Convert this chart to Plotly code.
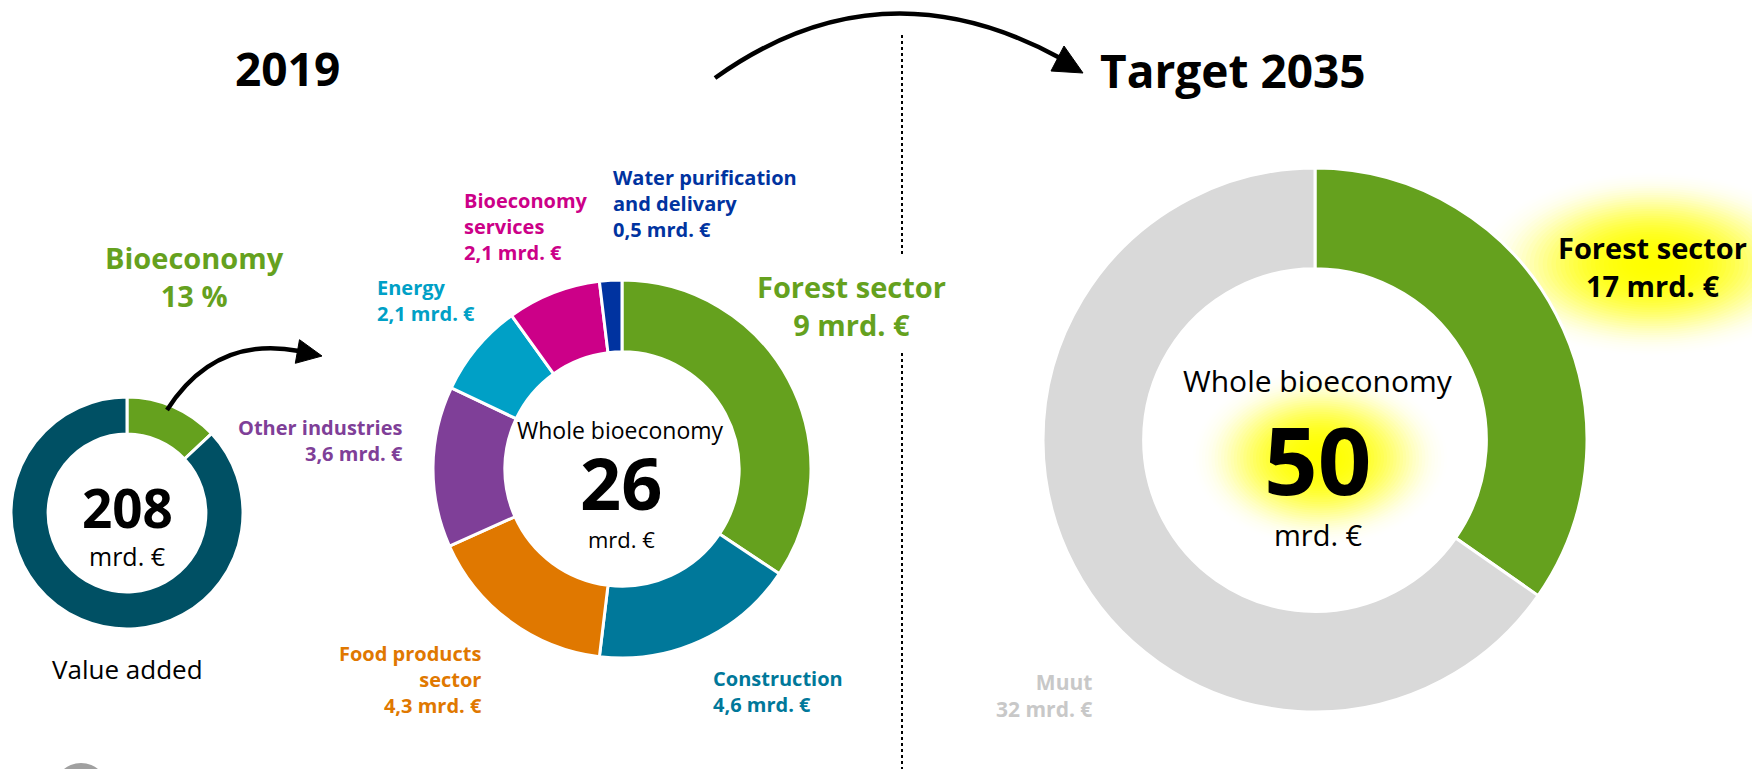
import plotly.graph_objects as go

W, H = 1752, 769

# ---------------- data ----------------
va_labels = ["Bioeconomy", "Other economy"]
va_share = [13, 87]            # % of value added
va_total = 208                 # mrd. €

sectors_2019 = ["Forest sector", "Construction", "Food products sector", "Other industries",
                "Energy", "Bioeconomy services", "Water purification and delivary"]
sector_label_text = ["Forest sector", "Construction", "Food products<br>sector", "Other industries",
                     "Energy", "Bioeconomy<br>services", "Water purification<br>and delivary"]
values_2019 = [9, 4.6, 4.3, 3.6, 2.1, 2.1, 0.5]
total_2019 = 26

target_labels = ["Forest sector", "Muut"]
target_values = [17, 32]
total_2035 = 50

# ---------------- style ----------------
GREEN = "#65A11E"
DARK = "#005064"
sector_colors = ["#65A11E", "#00789A", "#E07800", "#7F3F98", "#00A0C6", "#CC0088", "#0033A0"]
target_colors = ["#65A11E", "#D9D9D9"]
FONT = "Open Sans"


def fmt(v):
    return str(int(v)) if float(v).is_integer() else str(v).replace(".", ",")


def px(x):
    return x / W


def py(y):
    return 1 - y / H


def dom(cx, cy, r):
    return dict(x=[px(cx - r), px(cx + r)], y=[py(cy + r), py(cy - r)])


fig = go.Figure()

fig.add_trace(go.Pie(labels=va_labels, values=va_share, hole=0.68, sort=False,
                     direction="clockwise", rotation=0, textinfo="none",
                     marker=dict(colors=[GREEN, DARK], line=dict(color="white", width=3)),
                     domain=dom(127, 513, 116), showlegend=False))

fig.add_trace(go.Pie(labels=sectors_2019, values=values_2019, hole=0.62, sort=False,
                     direction="clockwise", rotation=0, textinfo="none",
                     marker=dict(colors=sector_colors, line=dict(color="white", width=3)),
                     domain=dom(622, 469, 189), showlegend=False))

fig.add_trace(go.Pie(labels=target_labels, values=target_values, hole=0.63, sort=False,
                     direction="clockwise", rotation=0, textinfo="none",
                     marker=dict(colors=target_colors, line=dict(color="white", width=3)),
                     domain=dom(1315, 440, 272), showlegend=False))

shapes = []

# soft yellow glows: stacked ellipses whose opacity fades towards the rim
def glow(cx, cy, rx, ry, n=40, peak=0.24):
    for i in range(n):
        t = i / n
        f = 1 - t
        op = peak * t ** 1.3 + 0.005
        shapes.append(dict(type="circle", xref="paper", yref="paper", layer="below",
                           x0=px(cx - rx * f), x1=px(cx + rx * f),
                           y0=py(cy + ry * f), y1=py(cy - ry * f),
                           fillcolor="rgba(255,255,0,1)", opacity=op, line=dict(width=0)))

glow(1320, 458, 128, 88)
glow(1652, 264, 175, 92)

# small arrow
shapes.append(dict(type="path", xref="paper", yref="paper",
                   path=f"M {px(167)} {py(410)} Q {px(215)} {py(335)} {px(299)} {py(351)}",
                   line=dict(color="black", width=4.5)))
shapes.append(dict(type="path", xref="paper", yref="paper",
                   path=f"M {px(322)} {py(356)} L {px(299.5)} {py(339.7)} L {px(295.3)} {py(363.3)} Z",
                   fillcolor="black", line=dict(color="black", width=1)))

# big arrow
shapes.append(dict(type="path", xref="paper", yref="paper",
                   path=f"M {px(715)} {py(78)} Q {px(880)} {py(-40)} {px(1060)} {py(58)}",
                   line=dict(color="black", width=4.5)))
shapes.append(dict(type="path", xref="paper", yref="paper",
                   path=f"M {px(1083)} {py(73)} L {px(1051)} {py(71)} L {px(1064)} {py(46)} Z",
                   fillcolor="black", line=dict(color="black", width=1)))

# dotted divider
for y0, y1 in [(35, 255), (353, 769)]:
    shapes.append(dict(type="line", xref="paper", yref="paper",
                       x0=px(902), x1=px(902), y0=py(y0), y1=py(y1),
                       line=dict(color="black", width=2, dash="dot")))

# grey circle peeking at bottom-left
shapes.append(dict(type="circle", xref="paper", yref="paper",
                   x0=px(54), x1=px(108), y0=py(817), y1=py(763),
                   fillcolor="#A0A0A0", line=dict(width=0)))

annotations = []


def ann(text, x, y, size, color="black", bold=False, xanchor="center", align="center"):
    if bold:
        text = f"<b>{text}</b>"
    annotations.append(dict(text=text, x=px(x), y=py(y), xref="paper", yref="paper",
                            xanchor=xanchor, yanchor="middle", align=align, showarrow=False,
                            font=dict(family=FONT, size=size, color=color)))


ann("2019", 287, 68, 46, bold=True)
ann("Target 2035", 1233, 70, 46, bold=True)

# value added donut
ann(f"{va_labels[0]}<br>{va_share[0]} %", 194, 276, 29, GREEN, bold=True)
ann(str(va_total), 127, 507, 53, bold=True)
ann("mrd. €", 127, 556, 25)
ann("Value added", 127, 669, 26)

# 2019 bioeconomy donut
ann("Whole bioeconomy", 620, 430, 23)
ann(str(total_2019), 621, 482, 72, bold=True)
ann("mrd. €", 621, 539, 22)

lab_pos = {
    0: (851, 305, "center", 29),
    1: (711, 691, "left", 20),
    2: (484, 679, "right", 20),
    3: (405, 440, "right", 20),
    4: (375, 300, "left", 20),
    5: (462, 226, "left", 20),
    6: (611, 204, "left", 20),
}
for i, (name, v, c) in enumerate(zip(sector_label_text, values_2019, sector_colors)):
    x, y, anc, sz = lab_pos[i]
    ann(f"{name}<br>{fmt(v)} mrd. €", x, y, sz, c, bold=True, xanchor=anc, align=anc)

# 2035 donut
ann("Whole bioeconomy", 1318, 380, 30)
ann(str(total_2035), 1318, 459, 94, bold=True)
ann("mrd. €", 1318, 534, 29)
ann(f"{target_labels[0]}<br>{fmt(target_values[0])} mrd. €", 1652, 266, 29, "black", bold=True)
ann(f"{target_labels[1]}<br>{fmt(target_values[1])} mrd. €", 1094, 695, 21, "#C8C8C8",
    bold=True, xanchor="right", align="right")

fig.update_layout(width=W, height=H, autosize=False,
                  margin=dict(l=0, r=0, t=0, b=0),
                  paper_bgcolor="white", plot_bgcolor="white",
                  shapes=shapes, annotations=annotations,
                  font=dict(family=FONT))

fig.write_html("out.html")
